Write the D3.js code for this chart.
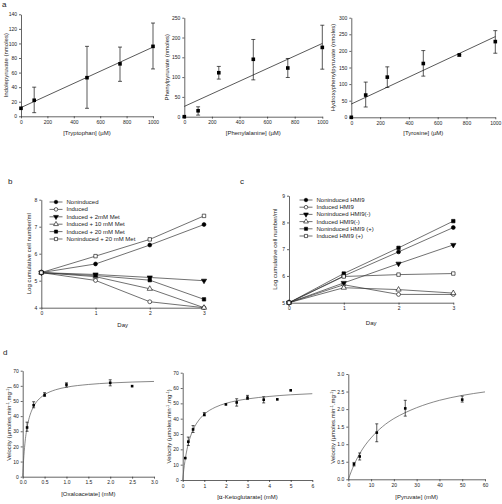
<!DOCTYPE html>
<html><head><meta charset="utf-8">
<script src="https://cdn.jsdelivr.net/npm/d3@7"></script>
<style>
body{margin:0;background:#fff}
svg{display:block;font-family:"Liberation Sans",Arial,sans-serif}
.axis path,.axis line{stroke:#222;stroke-width:0.7}
.axis text{font-size:5px;fill:#222}
.lbl{font-size:6px;fill:#222}
</style></head><body>
<svg id="c" width="502" height="504"></svg>
<script>
// ---------- Panel a ----------
const trpConc = [0,100,500,750,1000];
const trpMean = [11,22,53,72,96];
const trpLow  = [null,5,11,48,65];
const trpHigh = [null,40,96,95,128];
const trpFit  = [[0,12],[1000,95]];

const pheConc = [0,100,250,500,750,1000];
const pheMean = [0,15,111,145,123,175];
const pheLow  = [null,4,95,93,99,120];
const pheHigh = [null,25,127,195,147,231];
const pheFit  = [[0,26],[1000,185]];

const tyrConc = [0,100,250,500,750,1000];
const tyrMean = [0,67,121,162,188,228];
const tyrLow  = [null,31,90,124,184,193];
const tyrHigh = [null,106,152,201,189,261];
const tyrFit  = [[0,40],[1000,243]];

// ---------- Panel b ----------
const days = [0,1,2,3];
const bNames = ["Noninduced","Induced","Induced + 2mM Met","Induced + 10 mM Met","Induced + 20 mM Met","Noninduced + 20 mM Met"];
const bNoninduced   = [5.3,5.62,6.32,7.08];
const bInduced      = [5.3,5.01,4.22,4.0];
const bInd2Met      = [5.3,5.23,5.12,5.0];
const bInd10Met     = [5.3,5.15,4.7,4.0];
const bInd20Met     = [5.3,5.19,5.02,4.31];
const bNonind20Met  = [5.3,5.91,6.53,7.4];

// ---------- Panel c ----------
const cNames = ["Noninduced HMI9","Induced HMI9","Noninduced HMI9(-)","Induced HMI9(-)","Noninduced HMI9 (+)","Induced HMI9 (+)"];
const cNonHMI9     = [5.0,6.0,6.9,7.81];
const cIndHMI9     = [5.0,5.67,5.31,5.31];
const cNonHMI9m    = [5.0,5.74,6.46,7.16];
const cIndHMI9m    = [5.0,5.56,5.49,5.36];
const cNonHMI9p    = [5.0,6.09,7.05,8.05];
const cIndHMI9p    = [5.0,5.98,6.05,6.09];

// ---------- Panel d ----------
const oaaConc = [0.1,0.25,0.5,1.0,2.0,2.5];
const oaaVel  = [32.5,47.2,54,60.8,62,59.8];
const oaaLow  = [30,45.5,53,59.2,60,null];
const oaaHigh = [36,49.5,55.5,62,64,null];
const oaaCurveX = [0,0.02,0.05,0.1,0.15,0.2,0.3,0.4,0.5,0.75,1.0,1.5,2.0,2.5,3.0];
const oaaCurveY = [0,10.8,21.7,32.5,39,43.3,48.8,52,54.2,57.4,59.1,60.9,61.9,62.5,62.9];

const akgConc = [0.12,0.26,0.48,1.0,2.0,2.5,3.0,3.75,4.38,5.0];
const akgVel  = [14.3,25,33,42.6,49.3,50.6,53.7,52.4,52.6,58.5];
const akgLow  = [null,22.5,31,41.8,null,48.2,52.5,50.3,null,null];
const akgHigh = [null,28,35.5,44,null,53,55.2,54.3,null,null];
const akgCurveX = [0,0.05,0.1,0.2,0.3,0.5,0.75,1.0,1.5,2.0,2.5,3.0,4.0,5.0,6.0];
const akgCurveY = [0,6.7,12,20,25.7,33.3,39.1,42.9,47.4,50,51.7,52.9,54.5,55.6,56.3];

const pyrConc = [2.5,5,12.5,25,50];
const pyrVel  = [0.43,0.65,1.33,2.02,2.27];
const pyrLow  = [0.38,0.55,1.07,1.8,2.2];
const pyrHigh = [0.48,0.75,1.58,2.25,2.37];
const pyrCurveX = [0,2.5,5,7.5,10,15,20,25,30,40,50,60];
const pyrCurveY = [0,0.41,0.73,0.98,1.18,1.5,1.73,1.9,2.04,2.25,2.39,2.49];

const svg = d3.select("#c");

function zip(xs, ys){ return xs.map((x,i)=>[x,ys[i]]); }

function panel(o){
  const g = svg.append("g");
  const x = d3.scaleLinear().domain(o.xd).range(o.xr);
  const y = d3.scaleLinear().domain(o.yd).range(o.yr);
  const xa = d3.axisBottom(x).tickValues(o.xt).tickSize(2).tickPadding(2).tickSizeOuter(0);
  if (o.xf) xa.tickFormat(o.xf); else xa.tickFormat(d3.format("d"));
  const ya = d3.axisLeft(y).tickValues(o.yt).tickSize(2).tickPadding(2).tickSizeOuter(0);
  if (o.yf) ya.tickFormat(o.yf); else ya.tickFormat(d3.format("d"));
  g.append("g").attr("class","axis").attr("transform",`translate(0,${o.xr2 !== undefined ? o.xr2 : o.yr[0]})`).call(xa);
  g.append("g").attr("class","axis").attr("transform",`translate(${o.xr[0]},0)`).call(ya);
  // labels
  if (o.xl) {
    const t = g.append("text").attr("class","lbl").attr("text-anchor","middle")
      .attr("x",(o.xr[0]+o.xr[1])/2).attr("y",o.xly);
    if (typeof o.xl === "function") o.xl(t); else t.text(o.xl);
  }
  if (o.yl) {
    const t = g.append("text").attr("class","lbl").attr("text-anchor","middle")
      .attr("transform",`translate(${o.ylx},${(o.yr[0]+o.yr[1])/2}) rotate(-90)`);
    if (typeof o.yl === "function") o.yl(t); else t.text(o.yl);
  }
  return {g,x,y};
}

function errbars(p, xs, lo, hi, cap, sw){
  xs.forEach((xv,i)=>{
    if (lo[i]==null) return;
    const cx = p.x(xv);
    p.g.append("line").attr("x1",cx).attr("x2",cx).attr("y1",p.y(lo[i])).attr("y2",p.y(hi[i])).attr("stroke","#111").attr("stroke-width",sw||0.7);
    [lo[i],hi[i]].forEach(v=>{
      p.g.append("line").attr("x1",cx-cap).attr("x2",cx+cap).attr("y1",p.y(v)).attr("y2",p.y(v)).attr("stroke","#111").attr("stroke-width",sw||0.7);
    });
  });
}

function squares(p, xs, ys, s){
  p.g.selectAll(null).data(zip(xs,ys)).enter().append("rect")
    .attr("x",d=>p.x(d[0])-s/2).attr("y",d=>p.y(d[1])-s/2).attr("width",s).attr("height",s).attr("fill","#000");
}

function fitLine(p, pts, color){
  p.g.append("path").attr("d",d3.line().x(d=>p.x(d[0])).y(d=>p.y(d[1]))(pts))
    .attr("fill","none").attr("stroke",color||"#111").attr("stroke-width",0.7);
}

// a1
let p = panel({xd:[0,1000],xr:[21,153],yd:[0,140],yr:[116.3,14.3],xt:[0,200,400,600,800,1000],yt:d3.range(0,141,20),
  xl:"[Tryptophan] (\u00b5M)",xly:135,yl:"Indolepyruvate (nmoles)",ylx:8});
fitLine(p,trpFit); errbars(p,trpConc,trpLow,trpHigh,2); squares(p,trpConc,trpMean,3.6);
// a2
p = panel({xd:[0,1000],xr:[184.3,322.3],yd:[0,250],yr:[116.7,17.7],xt:[0,200,400,600,800,1000],yt:d3.range(0,251,50),
  xl:"[Phenylalanine] (\u00b5M)",xly:135,yl:"Phenylpyruvate (nmoles)",ylx:169});
fitLine(p,pheFit); errbars(p,pheConc,pheLow,pheHigh,2); squares(p,pheConc,pheMean,3.6);
// a3
p = panel({xd:[0,1000],xr:[351.3,495.3],yd:[0,300],yr:[117.3,17.7],xt:[0,200,400,600,800,1000],yt:d3.range(0,301,50),
  xl:"[Tyrosine] (\u00b5M)",xly:135,yl:"Hydroxyphenylpyruvate (nmoles)",ylx:335});
fitLine(p,tyrFit); errbars(p,tyrConc,tyrLow,tyrHigh,2); squares(p,tyrConc,tyrMean,3.6);

// symbols
const SYM = {
  fc:{t:d3.symbolCircle,f:true,r:0}, oc:{t:d3.symbolCircle,f:false,r:0},
  fdt:{t:d3.symbolTriangle,f:true,r:180}, out:{t:d3.symbolTriangle,f:false,r:0},
  fs:{t:d3.symbolSquare,f:true,r:0}, os:{t:d3.symbolSquare,f:false,r:0}
};
function marker(g, cx, cy, k, size){
  const s = SYM[k];
  g.append("path").attr("d",d3.symbol().type(s.t).size(size)())
    .attr("transform",`translate(${cx},${cy}) rotate(${s.r})`)
    .attr("fill",s.f?"#000":"#fff").attr("stroke","#000").attr("stroke-width",0.6);
}
function seriesPanel(p, series, names, keys, legX, legY0, legDy){
  series.forEach((vals,i)=>{
    const pts = zip(days, vals);
    p.g.append("path").attr("d",d3.line().x(d=>p.x(d[0])).y(d=>p.y(d[1]))(pts))
      .attr("fill","none").attr("stroke","#333").attr("stroke-width",0.7);
  });
  series.forEach((vals,i)=>{
    zip(days, vals).forEach(d=>marker(p.g,p.x(d[0]),p.y(d[1]),keys[i],12));
  });
  names.forEach((n,i)=>{
    const yy = legY0 + i*legDy;
    p.g.append("line").attr("x1",legX).attr("x2",legX+13).attr("y1",yy).attr("y2",yy).attr("stroke","#333").attr("stroke-width",0.7);
    marker(p.g, legX+6.5, yy, keys[i], 10);
    p.g.append("text").attr("x",legX+17).attr("y",yy+2).attr("font-size","6px").attr("fill","#222").text(n);
  });
}

// b
p = panel({xd:[0,3],xr:[41.3,204],yd:[4,8],yr:[307.7,199.7],xt:[0,1,2,3],yt:[4,5,6,7,8],
  xl:"Day",xly:327,yl:"Log cumulative cell number/ml",ylx:31});
seriesPanel(p,[bNoninduced,bInduced,bInd2Met,bInd10Met,bInd20Met,bNonind20Met],bNames,["fc","oc","fdt","out","fs","os"],49.5,202,7.4);

// c
p = panel({xd:[0,3],xr:[289,453.3],yd:[5,9],yr:[302.7,195.7],xt:[0,1,2,3],yt:[5,6,7,8,9],
  xl:"Day",xly:325,yl:"Log cumulative cell number/ml",ylx:277});
seriesPanel(p,[cNonHMI9,cIndHMI9,cNonHMI9m,cIndHMI9m,cNonHMI9p,cIndHMI9p],cNames,["fc","oc","fdt","out","fs","os"],299.5,200,7.2);

// velocity label
function velLabel(t){
  t.append("tspan").text("Velocity (\u00b5moles.min");
  t.append("tspan").attr("dy",-2).attr("font-size","4px").text("-1");
  t.append("tspan").attr("dy",2).text(".mg");
  t.append("tspan").attr("dy",-2).attr("font-size","4px").text("-1");
  t.append("tspan").attr("dy",2).text(")");
}
function curve(p, xs, ys){
  p.g.append("path").attr("d",d3.line().curve(d3.curveMonotoneX).x(d=>p.x(d[0])).y(d=>p.y(d[1]))(zip(xs,ys)))
    .attr("fill","none").attr("stroke","#555").attr("stroke-width",0.7);
}
// d1
p = panel({xd:[0,3],xr:[22.7,154],yd:[0,70],yr:[476.7,370.7],xt:[0,0.5,1,1.5,2,2.5,3],yt:d3.range(0,71,10),xf:d3.format(".1f"),
  xl:"[Oxaloacetate] (mM)",xly:496,yl:velLabel,ylx:11});
curve(p,oaaCurveX,oaaCurveY); errbars(p,oaaConc,oaaLow,oaaHigh,1.5); squares(p,oaaConc,oaaVel,2.6);
// d2
p = panel({xd:[0,6],xr:[182.7,312.3],yd:[0,70],yr:[480,372.7],xt:[0,1,2,3,4,5,6],yt:d3.range(0,71,10),
  xl:t=>{t.append("tspan").text("[");t.append("tspan").attr("font-family","DejaVu Sans").text("\u03b1");t.append("tspan").text("-Ketoglutarate] (mM)");},xly:499,yl:velLabel,ylx:171});
curve(p,akgCurveX,akgCurveY); errbars(p,akgConc,akgLow,akgHigh,1.5); squares(p,akgConc,akgVel,2.6);
// d3
p = panel({xd:[0,60],xr:[348.3,485],yd:[0,3],yr:[479.3,374],xt:[0,10,20,30,40,50,60],yt:[0,0.5,1,1.5,2,2.5,3],yf:d3.format(".1f"),
  xl:"[Pyruvate] (mM)",xly:499,yl:velLabel,ylx:335});
curve(p,pyrCurveX,pyrCurveY); errbars(p,pyrConc,pyrLow,pyrHigh,1.5); squares(p,pyrConc,pyrVel,2.6);

// panel letters
[["a",2,7],["b",8,184],["c",240,184],["d",3,355]].forEach(d=>{
  svg.append("text").attr("x",d[1]).attr("y",d[2]).attr("font-size","8px").attr("fill","#222").text(d[0]);
});
</script></body></html>
